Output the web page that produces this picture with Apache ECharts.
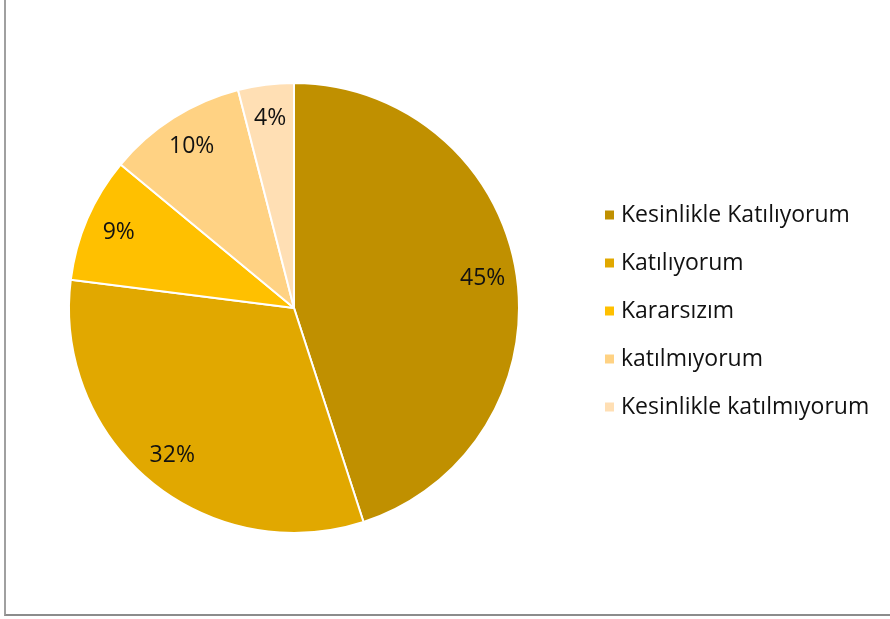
<!DOCTYPE html>
<html>
<head>
<meta charset="utf-8">
<script src="https://cdn.jsdelivr.net/npm/echarts@6/dist/echarts.min.js"></script>
<style>
  html, body { margin: 0; padding: 0; background: #fff; }
  #frame { position: absolute; left: 4px; top: 0; width: 890px; height: 616px;
           border-left: 2px solid #a0a0a0; border-bottom: 2px solid #8c8c8c; box-sizing: border-box; }
  #chart { position: absolute; left: 0; top: 0; width: 890px; height: 619px; }
</style>
</head>
<body>
<div id="frame"></div>
<div id="chart"></div>
<script>
// categories & values
const categories = ['Kesinlikle Katılıyorum', 'Katılıyorum', 'Kararsızım', 'katılmıyorum', 'Kesinlikle katılmıyorum'];
const shares = [45, 32, 9, 10, 4];
const colors = ['#C09000', '#E1A800', '#FFC000', '#FFD283', '#FFDFB4'];

const pieData = categories.map((name, i) => ({ name: name, value: shares[i], itemStyle: { color: colors[i] } }));

const chart = echarts.init(document.getElementById('chart'));
chart.setOption({
  animation: false,
  textStyle: { fontFamily: '"Open Sans", "Noto Sans", sans-serif' },
  legend: {
    orient: 'vertical',
    left: 598,
    top: 194,
    itemWidth: 11,
    itemHeight: 11,
    itemGap: 16,
    icon: 'rect',
    data: categories,
    textStyle: { fontSize: 23, lineHeight: 32, color: '#111', fontFamily: '"Open Sans", sans-serif', padding: [0, 0, 0, 1] }
  },
  series: [
    {
      type: 'pie',
      center: [294, 308],
      radius: 225,
      startAngle: 90,
      clockwise: true,
      data: pieData,
      itemStyle: { borderColor: '#fff', borderWidth: 2 },
      label: { show: false },
      labelLine: { show: false },
      emphasis: { disabled: true }
    },
    {
      // transparent ring to place the percentage labels near the rim
      type: 'pie',
      center: [294, 308],
      radius: [151, 225],
      startAngle: 90,
      clockwise: true,
      silent: true,
      data: categories.map((name, i) => ({ name: name, value: shares[i] })),
      itemStyle: { color: 'transparent' },
      label: {
        show: true,
        position: 'inside',
        formatter: '{c}%',
        fontSize: 23,
        color: '#111',
        fontFamily: '"Open Sans", sans-serif'
      },
      labelLine: { show: false },
      emphasis: { disabled: true }
    }
  ]
});
</script>
</body>
</html>
